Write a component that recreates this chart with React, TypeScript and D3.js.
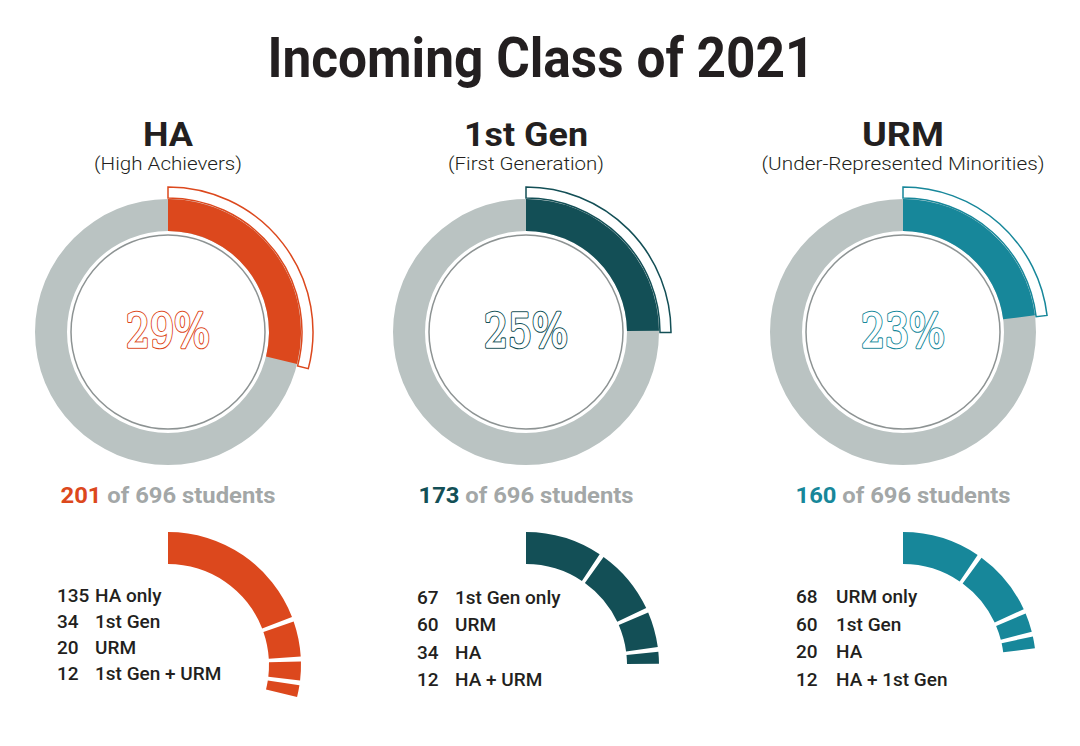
import React from "react";
import * as d3 from "d3";

// ---- data ----
const title = "Incoming Class of 2021";
const groups = ["HA", "1st Gen", "URM"];
const subtitles = ["(High Achievers)", "(First Generation)", "(Under-Represented Minorities)"];
const groupCounts = [201, 173, 160];
const totalStudents = 696;
const percentLabels = ["29%", "25%", "23%"];

const haLabels = ["HA only", "1st Gen", "URM", "1st Gen + URM"];
const haValues = [135, 34, 20, 12];
const genLabels = ["1st Gen only", "URM", "HA", "HA + URM"];
const genValues = [67, 60, 34, 12];
const urmLabels = ["URM only", "1st Gen", "HA", "HA + 1st Gen"];
const urmValues = [68, 60, 20, 12];

const segLabels = [haLabels, genLabels, urmLabels];
const segValues = [haValues, genValues, urmValues];
const colors = ["#DC481D", "#134F56", "#17879A"];

// ---- layout ----
const W = 1080, H = 746;
const centersX = [168, 526, 903];
const donutCY = 332;
const bottomCY = 665;
const rOuter = 133, rInner = 101;
const rThin = 97;
const outlineInner = 134, outlineOuter = 145;
const rowLayout = [
  { numX: 57, labelX: 95, y0: 602, step: 26 },
  { numX: 417, labelX: 455, y0: 604, step: 27.3 },
  { numX: 796, labelX: 836, y0: 603, step: 27.7 },
];
const headW = [50, 124, 82];
const subW = [148, 156, 283];

const FONT = "Roboto, 'Noto Sans', sans-serif";
const SERIF = "'DejaVu Serif', 'Liberation Serif', serif";

export default function App() {
  const arc = d3.arc<any>();
  const tau = Math.PI * 2;

  return (
    <svg width={W} height={H} viewBox={`0 0 ${W} ${H}`}
      style={{ position: "absolute", left: 0, top: 0, background: "#fff" }}>
      <text x={541} y={77} textAnchor="middle" fontFamily={FONT} fontWeight={700}
        fontSize={55} fill="#231f20" textLength={547} lengthAdjust="spacingAndGlyphs">{title}</text>
      {groups.map((g, i) => {
        const cx = centersX[i];
        const frac = groupCounts[i] / totalStudents;
        const end = frac * tau;
        const angle = d3.scaleLinear().domain([0, groupCounts[i]]).range([0, end]);
        const cum = d3.cumsum(segValues[i]);
        const gapA = 4.2 / ((rOuter + rInner) / 2);
        const rl = rowLayout[i];
        return (
          <g key={g}>
            <text x={cx} y={146} textAnchor="middle" fontFamily={FONT} fontWeight={700}
              fontSize={34} fill="#231f20" textLength={headW[i]} lengthAdjust="spacingAndGlyphs">{g}</text>
            <text x={cx} y={170} textAnchor="middle" fontFamily={FONT} fontWeight={300}
              fontSize={19} fill="#231f20" textLength={subW[i]} lengthAdjust="spacingAndGlyphs">{subtitles[i]}</text>
            <g transform={`translate(${cx},${donutCY})`}>
              <path d={arc({ innerRadius: rInner, outerRadius: rOuter, startAngle: 0, endAngle: tau }) as string}
                fill="#BAC3C2" />
              <circle r={rThin} fill="none" stroke="#8d9393" strokeWidth={1.5} />
              <path d={arc({ innerRadius: outlineInner, outerRadius: outlineOuter, startAngle: 0, endAngle: end + 0.012 }) as string}
                fill="#fff" stroke={colors[i]} strokeWidth={1.5} />
              <path d={arc({ innerRadius: rInner, outerRadius: rOuter, startAngle: 0, endAngle: end }) as string}
                fill={colors[i]} />
              <text x={0} y={15} textAnchor="middle" fontSize={46}
                style={{ fontFamily: SERIF }}
                fill="#fff" stroke={colors[i]} strokeWidth={3.6} strokeLinejoin="round"
                textLength={84} lengthAdjust="spacingAndGlyphs">{percentLabels[i]}</text>
              <text x={0} y={15} textAnchor="middle" fontSize={46}
                style={{ fontFamily: SERIF }}
                fill="#fff" stroke="#fff" strokeWidth={1.4} strokeLinejoin="round"
                textLength={84} lengthAdjust="spacingAndGlyphs">{percentLabels[i]}</text>
            </g>
            <text x={cx} y={503} textAnchor="middle" fontFamily={FONT} fontWeight={700} fontSize={22}
              fill="#A3A7A7" textLength={215} lengthAdjust="spacingAndGlyphs">
              <tspan fill={colors[i]}>{groupCounts[i]}</tspan>
              <tspan> of {totalStudents} students</tspan>
            </text>
            <g transform={`translate(${cx},${bottomCY})`}>
              {segValues[i].map((v, j) => {
                const s = angle(cum[j] - v) + (j > 0 ? gapA / 2 : 0);
                const e = angle(cum[j]) - (j < segValues[i].length - 1 ? gapA / 2 : 0);
                return (
                  <path key={j} d={arc({ innerRadius: rInner, outerRadius: rOuter, startAngle: s, endAngle: e }) as string}
                    fill={colors[i]} />
                );
              })}
            </g>
            {segValues[i].map((v, j) => (
              <g key={"l" + j} fontFamily={FONT} fontWeight={500} fontSize={19} fill="#231f20">
                <text x={rl.numX} y={rl.y0 + j * rl.step}>{v}</text>
                <text x={rl.labelX} y={rl.y0 + j * rl.step}>{segLabels[i][j]}</text>
              </g>
            ))}
          </g>
        );
      })}
    </svg>
  );
}
